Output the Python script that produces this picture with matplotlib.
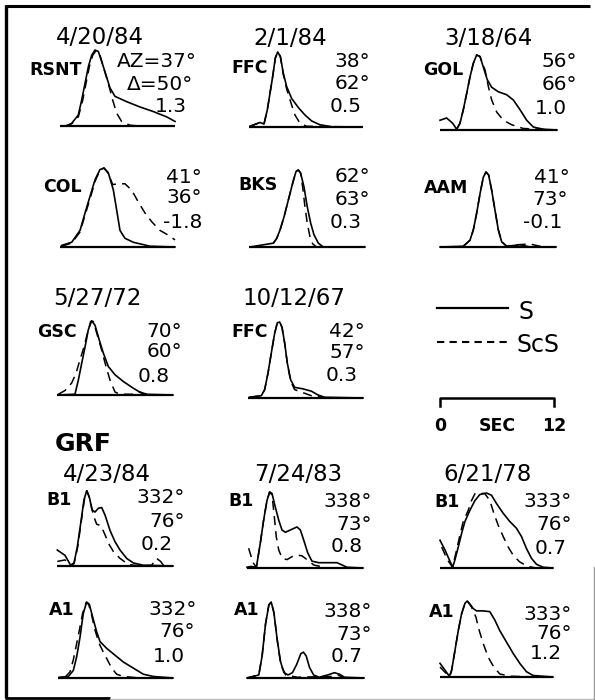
import matplotlib
matplotlib.use("Agg")
import matplotlib.pyplot as plt

plt.rcParams['font.family'] = ['DejaVu Sans']

# ---------------- data ----------------
DATES = ["4/20/84", "2/1/84", "3/18/64", "5/27/72", "10/12/67", "4/23/84", "7/24/83", "6/21/78"]
STATIONS = ["RSNT", "FFC", "GOL", "COL", "BKS", "AAM", "GSC", "FFC",
            "B1", "B1", "B1", "A1", "A1", "A1"]
AZIMUTH = [37, 38, 56, 41, 62, 41, 70, 42, 332, 338, 333, 332, 338, 333]
DISTANCE = [50, 62, 66, 36, 63, 73, 60, 57, 76, 73, 76, 76, 73, 76]
RATIO = ["1.3", "0.5", "1.0", "-1.8", "0.3", "-0.1", "0.8", "0.3",
         "0.2", "0.8", "0.7", "1.0", "0.7", "1.2"]
ARRAY_NAME = "GRF"
LEGEND_LABELS = ["S", "ScS"]
SCALE_LABELS = ["0", "SEC", "12"]
SCALE_POS = [0, 6, 12]

# waveforms: (time s, normalized amplitude)
RSNT_S = [(0.70, 0), (1.22, 0.035), (1.91, 0.145), (2.26, 0.34), (2.61, 0.56), (2.96, 0.78),
          (3.30, 0.93), (3.65, 1.0), (4.0, 0.98), (4.35, 0.85), (4.80, 0.67), (5.22, 0.50),
          (5.74, 0.39), (6.96, 0.32), (8.35, 0.25), (9.74, 0.19), (11.13, 0.12), (12.0, 0.06)]
RSNT_ScS = [(0.52, 0), (1.22, 0.03), (1.91, 0.12), (2.37, 0.34), (2.71, 0.56), (3.06, 0.78),
            (3.41, 0.93), (3.76, 0.99), (4.10, 0.96), (4.52, 0.78), (5.04, 0.56), (5.50, 0.34),
            (5.91, 0.17), (6.43, 0.06), (7.30, 0.01), (8.35, 0), (12.0, 0)]
FFC1_S = [(0.11, 0.01), (1.16, 0.06), (1.58, 0.04), (1.93, 0.23), (2.21, 0.45), (2.49, 0.67),
          (2.77, 0.92), (3.02, 1.0), (3.30, 0.94), (3.61, 0.72), (3.96, 0.54), (4.49, 0.38),
          (5.19, 0.26), (5.89, 0.16), (6.60, 0.08), (7.47, 0.03), (8.88, 0.0)]
FFC1_ScS = [(0.11, 0.01), (1.16, 0.06), (1.58, 0.04), (1.93, 0.23), (2.21, 0.45), (2.49, 0.67),
            (2.77, 0.92), (3.02, 1.0), (3.30, 0.94), (3.61, 0.70), (3.98, 0.50), (4.42, 0.32),
            (4.84, 0.16), (5.37, 0.05), (6.07, 0.01), (12.0, 0.0)]
GOL_S = [(0, 0.13), (0.68, 0.16), (1.30, 0.09), (1.71, 0.01), (2.05, 0.09), (2.39, 0.27),
         (2.74, 0.49), (3.08, 0.71), (3.42, 0.89), (3.76, 1.0), (4.10, 0.98), (4.44, 0.84),
         (4.85, 0.67), (5.30, 0.57), (5.98, 0.51), (6.84, 0.47), (7.52, 0.40), (8.21, 0.27),
         (8.89, 0.13), (9.57, 0.04), (10.6, 0.01), (12.0, 0.0)]
GOL_ScS = [(1.71, 0.01), (2.05, 0.09), (2.39, 0.27), (2.74, 0.49), (3.08, 0.71), (3.42, 0.89),
           (3.76, 1.0), (4.10, 0.98), (4.62, 0.80), (4.96, 0.58), (5.30, 0.40), (5.81, 0.24),
           (6.50, 0.13), (7.35, 0.07), (8.55, 0.02), (12.0, 0.0)]
COL_S = [(0.17, 0.02), (1.22, 0.06), (2.09, 0.21), (2.61, 0.43), (3.13, 0.64), (3.65, 0.85),
         (4.17, 0.98), (4.59, 1.0), (5.04, 0.94), (5.57, 0.72), (5.91, 0.47), (6.26, 0.21),
         (6.78, 0.11), (7.65, 0.06), (9.39, 0.01), (12.0, 0.0)]
COL_ScS = [(0.17, 0.01), (1.22, 0.05), (2.09, 0.19), (2.68, 0.43), (3.20, 0.64), (3.72, 0.85),
           (4.17, 0.97), (4.59, 1.0), (5.04, 0.93), (5.50, 0.79), (6.09, 0.80), (6.78, 0.80),
           (7.48, 0.72), (8.17, 0.57), (8.87, 0.43), (9.57, 0.32), (10.43, 0.21), (11.30, 0.15),
           (12.0, 0.09)]
BKS_S = [(0.1, 0.0), (2.52, 0.05), (2.86, 0.11), (3.21, 0.22), (3.62, 0.39), (4.07, 0.61),
         (4.52, 0.83), (4.86, 0.98), (5.10, 1.0), (5.34, 0.96), (5.69, 0.78), (6.03, 0.52),
         (6.38, 0.31), (6.72, 0.16), (7.17, 0.05), (7.69, 0.0), (12.0, 0.0)]
BKS_ScS = [(2.52, 0.05), (2.86, 0.11), (3.21, 0.22), (3.62, 0.39), (4.07, 0.61), (4.52, 0.83),
           (4.86, 0.98), (5.10, 1.0), (5.34, 0.96), (5.55, 0.78), (5.79, 0.52), (6.03, 0.31),
           (6.31, 0.13), (6.59, 0.04), (7.0, 0.0)]
AAM_S = [(0.0, 0.0), (2.41, 0.01), (3.10, 0.09), (3.45, 0.23), (3.79, 0.45), (4.14, 0.71),
         (4.48, 0.93), (4.76, 1.0), (5.03, 0.96), (5.34, 0.76), (5.69, 0.49), (6.03, 0.23),
         (6.38, 0.07), (6.90, 0.01), (8.28, 0.03), (9.31, 0.0), (12.0, 0.0)]
AAM_ScS = [(2.41, 0.01), (3.10, 0.09), (3.45, 0.23), (3.79, 0.45), (4.14, 0.71), (4.48, 0.93),
           (4.76, 1.0), (5.03, 0.96), (5.34, 0.76), (5.69, 0.49), (6.03, 0.23), (6.38, 0.07),
           (6.90, 0.01), (7.93, 0.03), (9.31, 0.04), (10.7, 0.0)]
GSC_S = [(0.14, 0.0), (1.86, 0.01), (2.21, 0.20), (2.55, 0.42), (2.90, 0.64), (3.24, 0.87),
         (3.59, 0.99), (3.93, 0.93), (4.38, 0.73), (4.79, 0.56), (5.31, 0.38), (6.00, 0.27),
         (6.86, 0.18), (7.90, 0.09), (8.93, 0.01), (12.0, 0.0)]
GSC_ScS = [(0.14, 0.01), (0.83, 0.06), (1.52, 0.16), (1.97, 0.29), (2.38, 0.47), (2.79, 0.64),
           (3.14, 0.82), (3.48, 0.98), (3.76, 0.98), (4.17, 0.80), (4.62, 0.60), (5.07, 0.38),
           (5.48, 0.20), (6.0, 0.04), (6.52, 0.01), (7.9, 0.01), (8.6, 0.04), (9.3, 0.01)]
FFC2_S = [(0.17, 0.01), (1.39, 0.03), (1.74, 0.11), (2.09, 0.33), (2.43, 0.59), (2.78, 0.85),
          (3.06, 0.99), (3.30, 1.0), (3.55, 0.93), (3.83, 0.72), (4.10, 0.46), (4.45, 0.24),
          (4.87, 0.14), (5.74, 0.12), (6.61, 0.09), (7.30, 0.04), (8.0, 0.01), (12.0, 0.0)]
FFC2_ScS = [(0.17, 0.01), (1.39, 0.03), (1.74, 0.11), (2.09, 0.33), (2.43, 0.59), (2.78, 0.85),
            (3.06, 0.99), (3.30, 1.0), (3.55, 0.93), (3.83, 0.72), (4.10, 0.46), (4.45, 0.22),
            (4.87, 0.11), (5.74, 0.07), (6.61, 0.03), (7.65, 0.01)]
B1A_S = [(0.03, 0.21), (0.83, 0.14), (1.41, 0.01), (1.76, 0.04), (2.10, 0.25), (2.45, 0.56),
         (2.79, 0.87), (3.07, 0.99), (3.34, 0.91), (3.62, 0.74), (3.93, 0.71), (4.28, 0.76),
         (4.62, 0.77), (4.97, 0.67), (5.48, 0.47), (6.0, 0.32), (6.52, 0.21), (7.21, 0.10),
         (7.90, 0.04), (8.93, 0.01), (12.0, 0.0)]
B1A_ScS = [(0.03, 0.06), (0.83, 0.08), (1.41, 0.01), (1.76, 0.03), (2.14, 0.25), (2.48, 0.56),
           (2.83, 0.87), (3.10, 0.99), (3.41, 0.87), (3.76, 0.67), (4.10, 0.55), (4.55, 0.53),
           (4.97, 0.41), (5.41, 0.28), (5.83, 0.19), (6.52, 0.10), (7.38, 0.02), (8.59, 0.0),
           (9.79, 0.01), (10.31, 0.10), (10.72, 0.06), (11.07, 0.0)]
B1B_S = [(0.0, 0.01), (0.41, 0.02), (0.97, 0.01), (1.38, 0.33), (1.72, 0.63), (2.07, 0.89),
         (2.34, 1.0), (2.59, 0.98), (2.93, 0.80), (3.28, 0.63), (3.62, 0.50), (3.97, 0.47),
         (4.48, 0.50), (5.17, 0.54), (5.52, 0.50), (5.86, 0.37), (6.28, 0.20), (6.72, 0.09),
         (7.41, 0.07), (8.62, 0.07), (9.31, 0.07), (9.83, 0.04), (10.34, 0.01), (12.0, 0.0)]
B1B_ScS = [(0.17, 0.26), (0.62, 0.07), (0.97, 0.01), (1.38, 0.33), (1.72, 0.63), (2.07, 0.89),
           (2.34, 1.0), (2.59, 0.96), (2.83, 0.67), (3.03, 0.41), (3.28, 0.24), (3.62, 0.13),
           (4.14, 0.11), (4.66, 0.15), (5.17, 0.17), (5.69, 0.16), (6.21, 0.11), (6.90, 0.04),
           (7.93, 0.01)]
B1C_S = [(0, 0.37), (0.53, 0.24), (0.99, 0.11), (1.34, 0.01), (1.59, 0.11), (1.94, 0.28),
         (2.29, 0.46), (2.65, 0.62), (3.18, 0.77), (3.71, 0.90), (4.24, 0.98), (4.94, 1.0),
         (5.47, 0.97), (6.0, 0.86), (6.71, 0.73), (7.41, 0.62), (8.12, 0.53), (8.65, 0.42),
         (9.18, 0.26), (9.71, 0.13), (10.24, 0.05), (10.94, 0.01), (12.0, 0.0)]
B1C_ScS = [(0.18, 0.28), (0.78, 0.11), (1.34, 0.01), (1.76, 0.24), (2.12, 0.44), (2.47, 0.62),
           (3.0, 0.77), (3.35, 0.90), (3.71, 0.99), (4.24, 1.0), (4.77, 0.99), (5.29, 0.90),
           (5.72, 0.73), (6.18, 0.57), (6.71, 0.42), (7.24, 0.28), (7.77, 0.17), (8.47, 0.08),
           (9.35, 0.02), (10.24, 0.0)]
A1A_S = [(0.14, 0.01), (1.08, 0.02), (1.60, 0.10), (1.95, 0.28), (2.30, 0.54), (2.64, 0.85),
         (2.99, 1.0), (3.27, 0.97), (3.62, 0.80), (4.03, 0.61), (4.38, 0.48), (5.08, 0.39),
         (5.95, 0.30), (6.82, 0.21), (7.86, 0.13), (8.90, 0.05), (9.95, 0.02), (12.0, 0.0)]
A1A_ScS = [(0.73, 0.01), (1.25, 0.08), (1.60, 0.24), (1.88, 0.41), (2.23, 0.63), (2.57, 0.85),
           (2.92, 0.99), (3.20, 0.97), (3.51, 0.83), (3.86, 0.63), (4.31, 0.45), (4.73, 0.34),
           (5.15, 0.24), (5.60, 0.13), (6.12, 0.05), (6.82, 0.02), (8.5, 0.0)]
A1B_S = [(0.0, 0.0), (1.21, 0.04), (1.55, 0.29), (1.90, 0.71), (2.24, 0.96), (2.48, 1.0),
         (2.76, 0.86), (3.10, 0.50), (3.45, 0.21), (3.79, 0.07), (4.21, 0.04), (4.66, 0.07),
         (5.10, 0.18), (5.52, 0.32), (5.79, 0.34), (6.07, 0.29), (6.41, 0.14), (6.83, 0.04),
         (7.41, 0.01), (8.28, 0.04), (8.97, 0.07), (9.48, 0.05), (10.0, 0.01), (12.0, 0.0)]
A1B_ScS = [(0.0, 0.0), (1.21, 0.04), (1.55, 0.29), (1.90, 0.71), (2.24, 0.96), (2.48, 1.0),
           (2.76, 0.86), (3.10, 0.50), (3.45, 0.18), (3.97, 0.04), (5.17, 0.01), (8.62, 0.02),
           (9.31, 0.04), (10.0, 0.0)]
A1C_S = [(0, 0.18), (0.53, 0.09), (0.99, 0.01), (1.24, 0.09), (1.59, 0.35), (1.94, 0.61),
         (2.29, 0.83), (2.65, 0.97), (2.89, 1.0), (3.18, 0.96), (3.53, 0.90), (3.88, 0.87),
         (4.59, 0.87), (5.29, 0.86), (5.82, 0.75), (6.35, 0.61), (7.06, 0.46), (7.77, 0.31),
         (8.47, 0.18), (9.18, 0.07), (9.88, 0.02), (12.0, 0.0)]
A1C_ScS = [(0, 0.13), (0.71, 0.04), (1.06, 0.01), (1.24, 0.09), (1.59, 0.35), (1.94, 0.61),
           (2.29, 0.83), (2.65, 0.97), (2.89, 1.0), (3.35, 0.92), (3.81, 0.79), (4.17, 0.61),
           (4.59, 0.44), (5.12, 0.26), (5.72, 0.13), (6.35, 0.04), (7.41, 0.01), (10.5, 0.0)]

S_WAVES = [RSNT_S, FFC1_S, GOL_S, COL_S, BKS_S, AAM_S, GSC_S, FFC2_S,
           B1A_S, B1B_S, B1C_S, A1A_S, A1B_S, A1C_S]
SCS_WAVES = [RSNT_ScS, FFC1_ScS, GOL_ScS, COL_ScS, BKS_ScS, AAM_ScS, GSC_ScS, FFC2_ScS,
             B1A_ScS, B1B_ScS, B1C_ScS, A1A_ScS, A1B_ScS, A1C_ScS]

# ---------------- layout (pixels) ----------------
W, H = 595, 700
# panel: baseline x0, x1, baseline y, peak y
GEO = [(60, 175, 126, 50), (249, 363, 127, 52), (440, 557, 130, 55),
       (60, 175, 247, 168), (249, 365, 247, 170), (440, 556, 247, 172),
       (57, 173, 395, 320), (248, 363, 398, 322),
       (57, 173, 566, 490), (247, 363, 568, 492), (440, 553, 568, 493),
       (58, 173, 678, 602), (247, 364, 678, 602), (440, 553, 677, 601)]
DATE_POS = [(100, 44), (290, 45), (488, 45), (97, 305), (294, 305),
            (107, 481), (298, 481), (488, 481)]
STATION_POS = [(82, 75), (268, 73), (463, 75), (82, 192), (278, 190), (468, 193),
               (77, 337), (268, 337), (72, 505), (254, 506), (460, 507),
               (75, 615), (260, 615), (455, 617)]
INFO_X = [(197, 193, 187), (370, 370, 362), (577, 577, 567), (202, 202, 202),
          (370, 370, 362), (570, 568, 562), (182, 182, 170), (365, 365, 358),
          (185, 185, 173), (372, 372, 363), (572, 572, 567), (197, 195, 185),
          (372, 372, 363), (572, 572, 562)]
INFO_Y = [(67, 90, 112), (67, 89, 112), (67, 90, 114), (183, 203, 228),
          (182, 205, 228), (183, 205, 228), (337, 357, 382), (337, 358, 381),
          (503, 527, 550), (507, 530, 552), (507, 530, 554), (615, 637, 662),
          (617, 640, 662), (620, 639, 659)]

fig = plt.figure(figsize=(W / 100, H / 100), dpi=100)
fig.patch.set_facecolor('white')


def fx(x):
    return x / W


def fy(y):
    return 1 - y / H


# overlay axes in pixel coordinates (frame + legend samples)
ov = fig.add_axes([0, 0, 1, 1])
ov.set_xlim(0, W)
ov.set_ylim(H, 0)
ov.axis('off')
ov.plot([6, 6], [5, 698], color='black', lw=2.4, solid_capstyle='butt')
ov.plot([5, 590], [5.5, 5.5], color='black', lw=2.2, solid_capstyle='butt')
ov.plot([5, 110], [697.5, 697.5], color='black', lw=2.0, solid_capstyle='butt')
ov.plot([110, 595], [698.5, 698.5], color='#bbbbbb', lw=1.0)
ov.plot([594, 594], [567, 700], color='#999999', lw=1.0)

# legend
ov.plot([437, 508], [308, 308], color='black', lw=1.6)
ov.plot([437, 508], [342, 342], color='black', lw=1.5, dashes=(3.5, 2.5))
fig.text(fx(518), fy(319), LEGEND_LABELS[0], fontsize=17, ha='left', va='baseline')
fig.text(fx(516), fy(352), LEGEND_LABELS[1], fontsize=17, ha='left', va='baseline')

# scale bar drawn in seconds
sb = fig.add_axes([fx(440), fy(406), 114 / W, 8 / H])
sb.set_xlim(0, 12)
sb.set_ylim(0, 1)
sb.axis('off')
sb.plot([0, 0, 12, 12], [0, 1, 1, 0], color='black', lw=1.8, clip_on=False)
for p, lab in zip(SCALE_POS, SCALE_LABELS):
    sb.text(p, -1.4, lab, fontsize=12.5, fontweight='bold', ha='center', va='top',
            transform=sb.transData, clip_on=False)

# waveform panels
for i, (x0, x1, base, peak) in enumerate(GEO):
    h = base - peak
    ax = fig.add_axes([fx(x0), fy(base + 0.4 * h), (x1 - x0) / W, 1.8 * h / H])
    ax.set_xlim(0, 12)
    ax.set_ylim(-0.4, 1.4)
    ax.axis('off')
    ax.plot([0, 12], [0, 0], color='black', lw=1.6, clip_on=False, solid_capstyle='butt')
    st, sa = zip(*S_WAVES[i])
    ct, ca = zip(*SCS_WAVES[i])
    ax.plot(ct, ca, color='black', lw=1.1, dashes=(6, 4), clip_on=False)
    ax.plot(st, sa, color='black', lw=1.2, clip_on=False)

    sx, sy = STATION_POS[i]
    fig.text(fx(sx), fy(sy), STATIONS[i], fontsize=12.5, fontweight='bold',
             ha='right', va='baseline')
    if i == 0:
        lines = [f"AZ={AZIMUTH[i]}°", f"Δ={DISTANCE[i]}°", RATIO[i]]
    else:
        lines = [f"{AZIMUTH[i]}°", f"{DISTANCE[i]}°", RATIO[i]]
    for txt, tx, ty in zip(lines, INFO_X[i], INFO_Y[i]):
        fig.text(fx(tx), fy(ty), txt, fontsize=14.5, ha='right', va='baseline')

for d, (dx, dy) in zip(DATES, DATE_POS):
    fig.text(fx(dx), fy(dy), d, fontsize=16.5, ha='center', va='baseline')

fig.text(fx(55), fy(451), ARRAY_NAME, fontsize=18, fontweight='bold',
         ha='left', va='baseline')

fig.savefig('out.png', dpi=100, facecolor='white')
